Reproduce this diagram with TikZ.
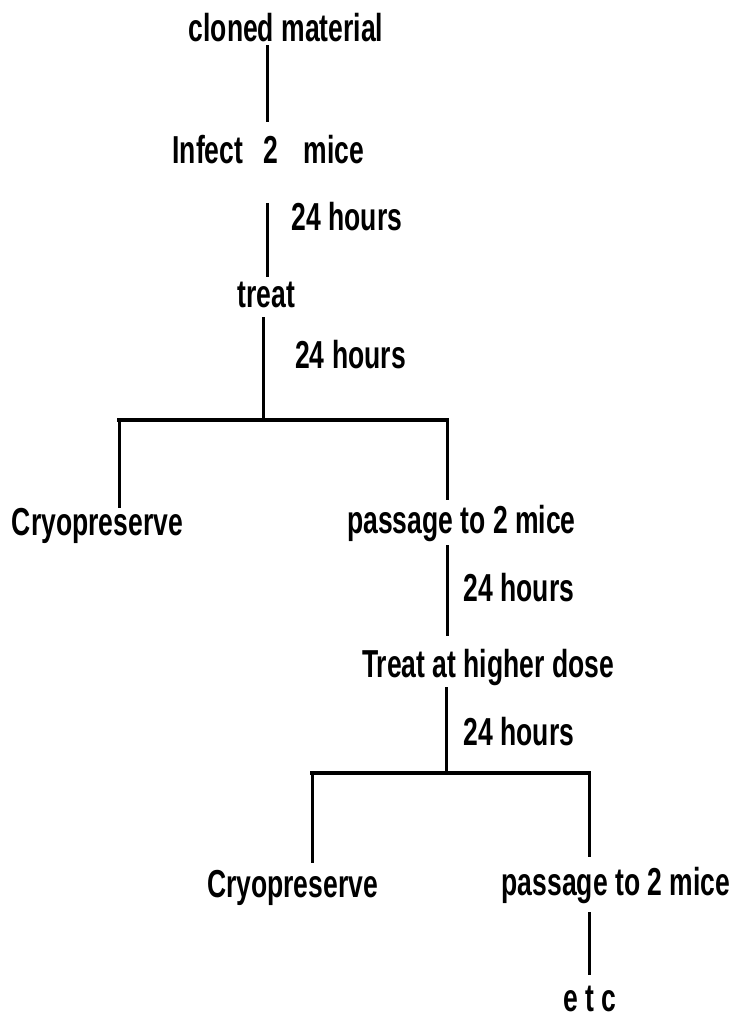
\documentclass[tikz,border=0pt]{standalone}
\usepackage{fontspec}
\setmainfont{Liberation Sans}[FakeStretch=0.68]
\usetikzlibrary{calc}

\tikzset{
  lbl/.style={font=\fontsize{39}{44}\selectfont\bfseries, inner sep=0pt, anchor=base},
  link/.style={line width=3pt},
  bar/.style={line width=4.5pt, line cap=rect}
}

\begin{document}
\begin{tikzpicture}[x=1pt, y=-1pt]
  \useasboundingbox (0,0) rectangle (735,1016);

  % steps of the passage scheme
  \node[lbl] (cloned) at (286,42) {cloned material};
  \node[lbl] (infect) at (268.5,164) {Infect\hspace{20pt}2\hspace{26pt}mice};
  \node[lbl] (treat)  at (266.5,307) {treat};
  \node[lbl] (cryoA)  at (97.5,535)  {Cryopreserve};
  \node[lbl] (passA)  at (461.5,533) {passage to 2 mice};
  \node[lbl] (higher) at (488,677)   {Treat at higher dose};
  \node[lbl] (cryoB)  at (292.5,897) {Cryopreserve};
  \node[lbl] (passB)  at (616,895)   {passage to 2 mice};
  \node[lbl] (etc)    at (590,1011)  {e t c};

  % time labels
  \node[lbl] (hoursA) at (347,230)   {24 hours};
  \node[lbl] (hoursB) at (350.5,368) {24 hours};
  \node[lbl] (hoursC) at (519,601)   {24 hours};
  \node[lbl] (hoursD) at (519,745)   {24 hours};

  % axes and forks
  \coordinate (axisA) at (267,0);
  \coordinate (forkA)  at (263,420);
  \coordinate (forkAL) at (119,420);
  \coordinate (forkAR) at (447,420);
  \coordinate (forkB)  at (446,773);
  \coordinate (forkBL) at (312,773);
  \coordinate (forkBR) at (589,773);

  \draw[link] ($(cloned.base -| axisA)+(0,3)$) -- ($(infect.base -| axisA)+(0,-42)$);
  \draw[link] ($(infect.base -| axisA)+(0,39)$) -- ($(treat.base -| axisA)+(0,-30)$);
  \draw[link] ($(treat.base -| forkA)+(0,10)$) -- (forkA);
  \draw[bar] (forkAL) -- (forkAR);
  \draw[link] (forkAL) -- ($(cryoA.base -| forkAL)+(0,-27)$);
  \draw[link] (forkAR) -- ($(passA.base -| forkAR)+(0,-33)$);

  \draw[link] ($(passA.base -| forkAR)+(0,12)$) -- ($(higher.base -| forkAR)+(0,-41)$);
  \draw[link] ($(higher.base -| forkB)+(0,10)$) -- (forkB);
  \draw[bar] (forkBL) -- (forkBR);
  \draw[link] (forkBL) -- ($(cryoB.base -| forkBL)+(0,-34)$);
  \draw[link] (forkBR) -- ($(passB.base -| forkBR)+(0,-38)$);
  \draw[link] ($(passB.base -| forkBR)+(0,17)$) -- ($(etc.base -| forkBR)+(0,-36)$);
\end{tikzpicture}
\end{document}
